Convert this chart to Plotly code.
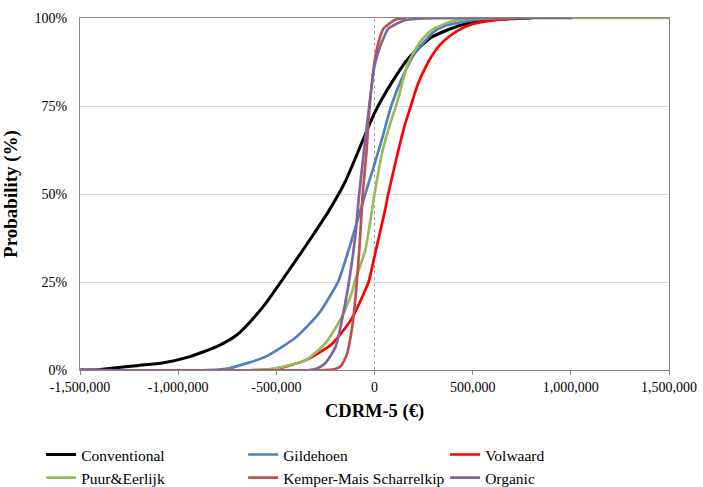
import plotly.graph_objects as go

# ---- data (x in euro, y in %) ----
series_names = ["Conventional", "Gildehoen", "Volwaard", "Puur&Eerlijk",
                "Kemper-Mais Scharrelkip", "Organic"]
series_colors = ["#000000", "#4F81BD", "#FF0000", "#9BBB59", "#C0504D", "#8064A2"]

conventional_x = [-1500000, -1400000, -1340000, -1200000, -1080000, -940000, -790000, -700000,
                  -640000, -560000, -490000, -400000, -310000, -235000, -150000, -80000, 0,
                  86000, 172000, 290000, 430000, 550000, 700000, 800000]
conventional_y = [0, 0.1, 0.5, 1.3, 2, 3.8, 7, 10, 13.3, 18.5, 24, 31.2, 38.6, 45, 53.4,
                  62.5, 73, 81.5, 88.5, 94.5, 97.8, 99.3, 99.8, 100]

gildehoen_x = [-1500000, -850000, -740000, -554000, -400000, -284000, -218000, -182000,
               -116000, -47000, 0, 40000, 85000, 137000, 200000, 300000, 360000, 520000, 650000]
gildehoen_y = [0, 0, 0.5, 3.8, 9.3, 16, 21.8, 25.5, 37, 50, 58.5, 66, 75, 82.5, 89.5, 96,
               97.8, 99.5, 100]

volwaard_x = [-1500000, -600000, -486000, -351000, -218000, -116000, -47000, -30000,
              3000, 54000, 70000, 122000, 155000, 185000, 223000, 274000, 307000, 350000,
              426000, 500000, 613000, 750000]
volwaard_y = [0, 0, 0.5, 2.8, 7.3, 14.6, 22.7, 25, 33, 45.5, 50, 62.5, 69.7, 75, 81.5, 87.5,
              90.5, 93.3, 96.5, 98.3, 99.4, 100]

puur_x = [-1500000, -600000, -503000, -351000, -250000, -167000, -116000,
          -98000, -47000, 0, 40000, 80000, 115000, 170000, 230000, 290000, 390000, 500000,
          1500000]
puur_y = [0, 0, 0.5, 2.8, 7.6, 15, 21.9, 25.6, 34, 50, 62, 70, 76, 87, 93, 96.5,
          99, 99.8, 100]

kemper_x = [-1500000, -250000, -199000, -170000, -140000, -120000, -106000, -77000, -60000,
            -40000, -30000, -10000, 3000, 25000, 46000, 105000, 160000]
kemper_y = [0, 0, 0.3, 1.2, 4.5, 10, 15.5, 34.5, 50, 62.5, 71.6, 83, 88.6, 94, 97, 99.5, 100]

organic_x = [-1500000, -330000, -290000, -250000, -199000, -149000, -100000, -78000, -47000,
             -20000, -5000, 20000, 54000, 71000, 137000, 155000, 250000, 1008000]
organic_y = [0, 0, 0.5, 2, 6.5, 19, 37, 50, 65.5, 78, 85, 90.5, 95.3, 97, 99, 99.4, 99.9, 100]

series_x = [conventional_x, gildehoen_x, volwaard_x, puur_x, kemper_x, organic_x]
series_y = [conventional_y, gildehoen_y, volwaard_y, puur_y, kemper_y, organic_y]

x_tickvals = [-1500000, -1000000, -500000, 0, 500000, 1000000, 1500000]
x_ticktext = ["-1,500,000", "-1,000,000", "-500,000", "0", "500,000", "1,000,000", "1,500,000"]
y_tickvals = [0, 25, 50, 75, 100]
y_ticktext = ["0%", "25%", "50%", "75%", "100%"]

FONT = "Liberation Serif, Times New Roman, serif"

fig = go.Figure()
for name, color, xs, ys in zip(series_names, series_colors, series_x, series_y):
    fig.add_trace(go.Scatter(
        x=xs, y=ys, mode="lines", name=name,
        line=dict(color=color, width=3 if name == "Conventional" else 2.7,
                  shape="spline", smoothing=0.6),
        cliponaxis=False,
    ))

fig.add_shape(type="line", xref="x", yref="paper", x0=0, x1=0, y0=0, y1=1,
              line=dict(color="#A6A6A6", width=1, dash="dot"), layer="below")

fig.update_layout(
    width=703, height=487,
    margin=dict(l=80, r=34, t=18, b=117, autoexpand=False),
    paper_bgcolor="white", plot_bgcolor="white",
    font=dict(family=FONT, color="#000000", size=14),
    showlegend=True,
    legend=dict(
        orientation="h", xref="paper", yref="paper",
        x=-0.066, y=-0.193, xanchor="left", yanchor="top",
        entrywidth=157, entrywidthmode="pixels",
        font=dict(family=FONT, size=15.5, color="#000000"),
        itemwidth=30, tracegroupgap=0, traceorder="normal",
        bgcolor="rgba(0,0,0,0)",
    ),
    xaxis=dict(
        range=[-1500000, 1500000], tickvals=x_tickvals, ticktext=x_ticktext,
        showgrid=False, zeroline=False,
        showline=True, linecolor="#868686", linewidth=1.3, mirror=True,
        ticks="outside", ticklen=4, tickcolor="#868686",
        tickfont=dict(family=FONT, size=14, color="#000000"),
        title=dict(text="<b>CDRM-5 (€)</b>", font=dict(family=FONT, size=18.5),
                   standoff=10),
        automargin=False,
    ),
    yaxis=dict(
        range=[0, 100], tickvals=y_tickvals, ticktext=y_ticktext,
        showgrid=True, gridcolor="#D9D9D9", gridwidth=1, zeroline=False,
        showline=True, linecolor="#868686", linewidth=1.3, mirror=True,
        ticks="", ticklabelstandoff=9,
        tickfont=dict(family=FONT, size=14, color="#000000"),
        title=dict(text="<b>Probability (%)</b>", font=dict(family=FONT, size=19),
                   standoff=12),
        automargin=False,
    ),
)

fig.write_html("out.html")
